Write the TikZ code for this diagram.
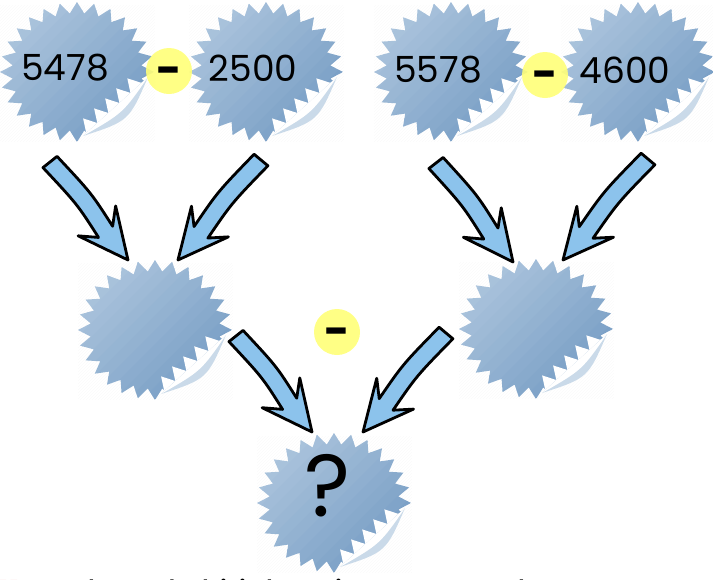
\documentclass[tikz,border=0pt]{standalone}
\usepackage{fontspec}
\setmainfont{Poppins}
\usetikzlibrary{calc,patterns}
\definecolor{stlight}{HTML}{B8CDE2}
\definecolor{stdark}{HTML}{6A94BF}
\definecolor{arrowblue}{HTML}{8CC3EC}
\definecolor{minusyellow}{HTML}{FFFF78}
\definecolor{qred}{HTML}{E8201A}
\tikzset{
  sticker/.pic={
    \fill[pattern=north east lines, pattern color=gray!4] (-77,67) rectangle (78,-69);
    \begin{scope}
      \clip (201,113) -- (-124,-182) -- (-200,200) -- cycle;
      \clip (77,0) \foreach \i [evaluate=\i as \rr using {70*(0.92+0.08*cos(\i*180))}, evaluate=\i as \aa using {\i*6.4285714}] in {1,...,55} { -- ({1.1*\rr*cos(\aa)},{\rr*sin(\aa)}) } -- cycle;
      \foreach \j [evaluate=\j as \pc using {int(100-\j*100/21)}, evaluate=\j as \ua using {-110+\j*10}] in {0,...,21} {
        \fill[stlight!\pc!stdark, rotate=-45] (\ua,-130) rectangle ({\ua+10.6},130);
      }
    \end{scope}
    \fill[white] (71,-5) -- (64.5,-10.9) -- (50.3,-6.3) -- (53.45,-20.93) -- (39.2,-16.3) -- (42.4,-31.0)
      -- (28.2,-26.4) -- (31.35,-41.0) -- (17.1,-36.4) -- (20.3,-51.0) -- (6.1,-46.4) -- (9.25,-61.05) -- (6,-64) -- cycle;
    \fill[stlight!75] (71,-5) .. controls (52,-49) .. (6,-64) -- cycle;
    \fill[white] (71,-5) .. controls (46,-41) .. (6,-64) -- cycle;
  },
  barrow/.style={fill=arrowblue, draw=black, line width=2.8pt, line join=round},
  numtext/.style={inner sep=0pt, font=\fontsize{36}{40}\selectfont},
  opcircle/.style={circle, fill=minusyellow, fill opacity=0.9, minimum size=46pt, inner sep=0pt},
  optext/.style={inner sep=0pt, font=\fontsize{44}{44}\selectfont\bfseries, yshift=-5pt},
}
% #1 tail, #2 tip, #3 plus-side control offset, #4 minus-side control offset
\newcommand\blockarrow[4]{%
  \draw[barrow]
    ($(#1)!9pt!-90:(#2)$)
    .. controls ($(#2)!0.6!(#1)!#3pt!90:(#1)$) ..
    ($(#2)!36pt!(#1)!9pt!90:(#1)$)
    -- ($(#2)!50pt!(#1)!24pt!90:(#1)$)
    -- (#2)
    -- ($(#2)!50pt!(#1)!24pt!-90:(#1)$)
    -- ($(#2)!36pt!(#1)!9pt!-90:(#1)$)
    .. controls ($(#2)!0.6!(#1)!#4pt!90:(#1)$) ..
    ($(#1)!9pt!90:(#2)$) -- cycle;
}
\begin{document}
\begin{tikzpicture}[x=1pt, y=1pt]
\useasboundingbox (0,0) rectangle (713,-579);
\clip (0,0) rectangle (713,-579);
% stickers
\pic at (77,-72) {sticker};
\pic at (266,-72) {sticker};
\pic at (451,-72) {sticker};
\pic at (638,-72) {sticker};
\pic at (155,-330) {sticker};
\pic at (536,-329) {sticker};
\pic at (334,-503) {sticker};
% numbers
\node[numtext] (n1) at (65,-68) {5478};
\node[numtext] (n2) at (253,-68) {2500};
\node[numtext] (n3) at (438,-70) {5578};
\node[numtext] (n4) at (625,-70) {4600};
\node[inner sep=0pt, font=\fontsize{88}{88}\selectfont] (q) at (328,-486) {?};
% operators
\node[opcircle] (m1) at (169,-71) {};
\node[optext] (t1) at (169,-71) {-};
\node[opcircle] (m2) at (545,-75) {};
\node[optext] (t2) at (545,-75) {-};
\node[opcircle] (m3) at (337,-332) {};
\node[optext] (t3) at (337,-332) {-};
% arrow ends
\coordinate (a1s) at (50,-162);  \coordinate (a1e) at (128,-260);
\coordinate (a2s) at (261,-160); \coordinate (a2e) at (178,-260);
\coordinate (a3s) at (436,-163); \coordinate (a3e) at (513,-262);
\coordinate (a4s) at (648,-159); \coordinate (a4e) at (563,-260);
\coordinate (a5s) at (236,-336); \coordinate (a5e) at (312,-432);
\coordinate (a6s) at (446,-333); \coordinate (a6e) at (363,-432);
\blockarrow{a1s}{a1e}{5}{-13}
\blockarrow{a2s}{a2e}{13}{-5}
\blockarrow{a3s}{a3e}{5}{-13}
\blockarrow{a4s}{a4e}{13}{-5}
\blockarrow{a5s}{a5e}{5}{-13}
\blockarrow{a6s}{a6e}{13}{-5}
% cut-off question text
\node[anchor=base west, inner sep=0pt, font=\fontsize{36}{40}\selectfont, text=qred] (qn) at (-2,-606) {11.};
\node[anchor=base west, inner sep=0pt, font=\fontsize{36}{40}\selectfont] (qt) at (43,-606) {Yukarıdaki işlemin sonucu kaçtır?};
\end{tikzpicture}
\end{document}
